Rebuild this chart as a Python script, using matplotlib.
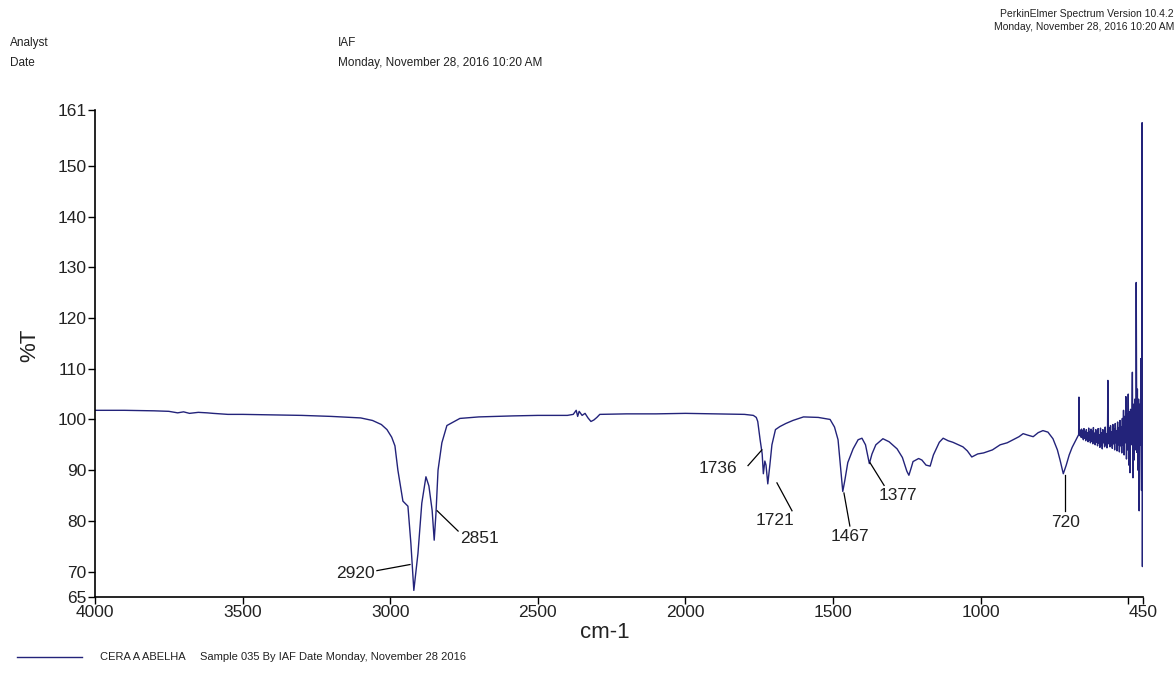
import matplotlib
matplotlib.use("Agg")
import matplotlib.pyplot as plt
from matplotlib.lines import Line2D

plt.rcParams['font.family'] = ['Liberation Sans', 'DejaVu Sans']

# ---------------- data ----------------
wavenumber = [
    4000, 3900, 3800, 3750, 3720, 3700, 3680, 3650, 3620, 3600, 3550, 3500, 3400, 3300, 3200,
    3100, 3060, 3030, 3011, 2995, 2984, 2974, 2957, 2940, 2930, 2920, 2906, 2893, 2879, 2869,
    2858, 2851, 2845, 2838, 2825, 2808, 2764, 2700, 2584, 2500, 2400, 2380, 2370, 2365, 2360,
    2350, 2340, 2330, 2320, 2310, 2300, 2290, 2200, 2100, 2000, 1900, 1800, 1770, 1760, 1755,
    1747, 1740, 1736, 1731, 1727, 1721, 1714, 1707, 1695, 1680, 1660, 1636, 1600, 1550, 1510,
    1495, 1483, 1475, 1467, 1460, 1450, 1432, 1415, 1402, 1390, 1377, 1368, 1355, 1331, 1310,
    1283, 1265, 1250, 1243, 1235, 1229, 1210, 1199, 1185, 1171, 1160, 1140, 1127, 1110, 1094,
    1075, 1060, 1045, 1030, 1010, 990, 960, 934, 910, 890, 870, 856, 840, 822, 805,
    789, 772, 755, 740, 731, 720, 710, 700, 690, 675, 668, 667, 666,
    664, 662, 660, 658, 656, 654, 652, 650, 648, 646, 644, 642, 640, 638, 636, 634, 632, 630,
    628, 626, 624, 622, 620, 618, 616, 614, 612, 610, 608, 606, 604, 602, 600, 598, 596, 594,
    592, 590, 588, 586, 584, 582, 580, 578, 576, 574, 572, 570, 569, 568, 566, 564, 562, 560,
    558, 556, 554, 552, 550, 548, 546, 544, 542, 540, 538, 536, 534, 532, 530, 528, 526, 524,
    522, 520, 518, 516, 514, 512, 510, 508, 506, 504, 502, 500, 498, 496, 494, 492, 490, 488,
    486, 484, 482, 480, 478, 476, 474, 473, 471, 469, 467, 465, 463, 461, 459, 457, 455, 453,
    452, 451, 450,
]
transmittance = [
    101.8, 101.8, 101.7, 101.6, 101.3, 101.5, 101.2, 101.4, 101.3, 101.2, 101.0, 101.0, 100.9, 100.8, 100.6,
    100.3, 99.8, 99.0, 98.0, 96.5, 94.8, 90.0, 83.9, 82.9, 75.6, 66.3, 73.6, 83.5, 88.7, 86.9,
    82.1, 76.2, 81.5, 90.0, 95.4, 98.8, 100.2, 100.5, 100.7, 100.8, 100.8, 101.0, 101.8, 100.6, 101.6,
    100.8, 101.2, 100.3, 99.6, 99.9, 100.4, 101.0, 101.1, 101.1, 101.2, 101.1, 101.0, 100.8, 100.4, 99.6,
    96.0, 93.2, 89.3, 91.8, 91.0, 87.3, 91.0, 95.0, 98.0, 98.6, 99.2, 99.8, 100.5, 100.4, 100.0,
    98.5, 96.0, 91.0, 85.8, 88.0, 91.5, 94.2, 96.0, 96.3, 95.0, 91.3, 93.2, 95.0, 96.2, 95.6,
    94.2, 92.5, 89.8, 89.0, 90.5, 91.7, 92.3, 92.0, 91.0, 90.8, 93.0, 95.5, 96.3, 95.8, 95.5,
    95.0, 94.6, 93.8, 92.6, 93.2, 93.4, 94.0, 95.0, 95.4, 96.0, 96.6, 97.2, 96.9, 96.6, 97.4,
    97.8, 97.5, 96.2, 94.0, 92.0, 89.3, 91.0, 93.0, 94.5, 96.2, 97.0, 104.4, 97.2,
    96.8, 97.9, 96.5, 98.1, 96.4, 97.8, 96.0, 98.2, 96.3, 97.6, 95.8, 98.0, 96.2, 97.4, 95.6, 98.3, 95.9, 97.5,
    95.4, 98.1, 95.7, 97.7, 95.2, 98.4, 95.6, 97.3, 95.0, 98.0, 95.5, 97.6, 94.8, 98.2, 95.3, 97.0, 94.5, 98.3,
    95.0, 97.4, 94.2, 98.0, 95.4, 97.8, 94.6, 98.5, 95.0, 97.2, 94.4, 98.6, 107.7, 97.0, 95.2, 98.4, 94.6, 98.8,
    95.0, 97.6, 94.3, 99.0, 95.2, 98.1, 94.0, 99.2, 95.4, 97.8, 93.8, 99.5, 95.0, 98.4, 93.6, 99.8, 94.8, 98.6,
    93.4, 100.2, 95.0, 101.8, 93.0, 100.6, 95.4, 104.5, 92.2, 101.0, 94.0, 105.0, 91.0, 101.5, 89.5, 102.0, 95.0, 99.0,
    109.3, 88.5, 103.0, 92.0, 104.0, 94.0, 100.5, 127.0, 93.5, 106.0, 90.0, 104.0, 82.0, 103.0, 95.0, 112.0, 86.0, 158.5,
    71.0, 113.5, 96.0,
]

peak_labels = ["2920", "2851", "1736", "1721", "1467", "1377", "720"]
# label text position (wavenumber, %T) and leader line endpoints
label_pos = [(3119, 69.6), (2696, 76.6), (1890, 90.3), (1697, 80.0), (1443, 77.0), (1280, 85.1), (714, 79.6)]
leader_from = [(3045, 70.2), (2770, 78.0), (1788, 90.9), (1639, 82.0), (1443, 79.0), (1327, 87.0), (714, 82.0)]
leader_to = [(2933, 71.4), (2841, 82.0), (1741, 94.0), (1690, 87.5), (1463, 85.5), (1375, 91.5), (714, 89.0)]

x_ticks = [4000, 3500, 3000, 2500, 2000, 1500, 1000, 500, 450]
x_tick_labels = ["4000", "3500", "3000", "2500", "2000", "1500", "1000", "", "450"]
y_ticks = [65, 70, 80, 90, 100, 110, 120, 130, 140, 150, 161]
y_tick_labels = ["65", "70", "80", "90", "100", "110", "120", "130", "140", "150", "161"]

# ---------------- figure ----------------
line_color = "#23237a"
fig = plt.figure(figsize=(11.76, 6.77), dpi=100)
ax = fig.add_axes([95 / 1176, 1 - 597 / 677, (1143 - 95) / 1176, (597 - 110) / 677])

ax.plot(wavenumber, transmittance, color=line_color, lw=1.0)

for lab, tp, lf, lt in zip(peak_labels, label_pos, leader_from, leader_to):
    ax.plot([lf[0], lt[0]], [lf[1], lt[1]], color="black", lw=0.9)
    ax.text(tp[0], tp[1], lab, ha="center", va="center", fontsize=12.5, color="#222222")

ax.set_xlim(4000, 450)
ax.set_ylim(65, 161)
ax.set_xticks(x_ticks)
ax.set_xticklabels(x_tick_labels, fontsize=12.5, color="#222222")
ax.set_yticks(y_ticks)
ax.set_yticklabels(y_tick_labels, fontsize=12.5, color="#222222")
ax.tick_params(axis="both", direction="out", length=5, width=1, pad=1)
for s in ["top", "right"]:
    ax.spines[s].set_visible(False)
for s in ["left", "bottom"]:
    ax.spines[s].set_linewidth(1.2)

fig.text(30 / 1176, 1 - 345 / 677, "%T", rotation=90, ha="center", va="center", fontsize=16, color="#222222")
fig.text(605 / 1176, 1 - 633 / 677, "cm-1", ha="center", va="center", fontsize=16, color="#222222")

# header
hdr = dict(fontsize=8.5, color="#222222", va="center")
fig.text(10 / 1176, 1 - 43 / 677, "Analyst", ha="left", **hdr)
fig.text(10 / 1176, 1 - 63 / 677, "Date", ha="left", **hdr)
fig.text(338 / 1176, 1 - 43 / 677, "IAF", ha="left", **hdr)
fig.text(338 / 1176, 1 - 63 / 677, "Monday, November 28, 2016 10:20 AM", ha="left", **hdr)
fig.text(1174 / 1176, 1 - 14 / 677, "PerkinElmer Spectrum Version 10.4.2", ha="right", va="center", fontsize=7.5, color="#222222")
fig.text(1174 / 1176, 1 - 27 / 677, "Monday, November 28, 2016 10:20 AM", ha="right", va="center", fontsize=7.5, color="#222222")

# footer legend
fig.add_artist(Line2D([17 / 1176, 82 / 1176], [1 - 657 / 677, 1 - 657 / 677], color=line_color, lw=1.0,
                      transform=fig.transFigure))
fig.text(100 / 1176, 1 - 657 / 677, "CERA A ABELHA", ha="left", va="center", fontsize=8, color="#222222")
fig.text(200 / 1176, 1 - 657 / 677, "Sample 035 By IAF Date Monday, November 28 2016", ha="left", va="center",
         fontsize=8, color="#222222")

fig.savefig("out.png", dpi=100)
